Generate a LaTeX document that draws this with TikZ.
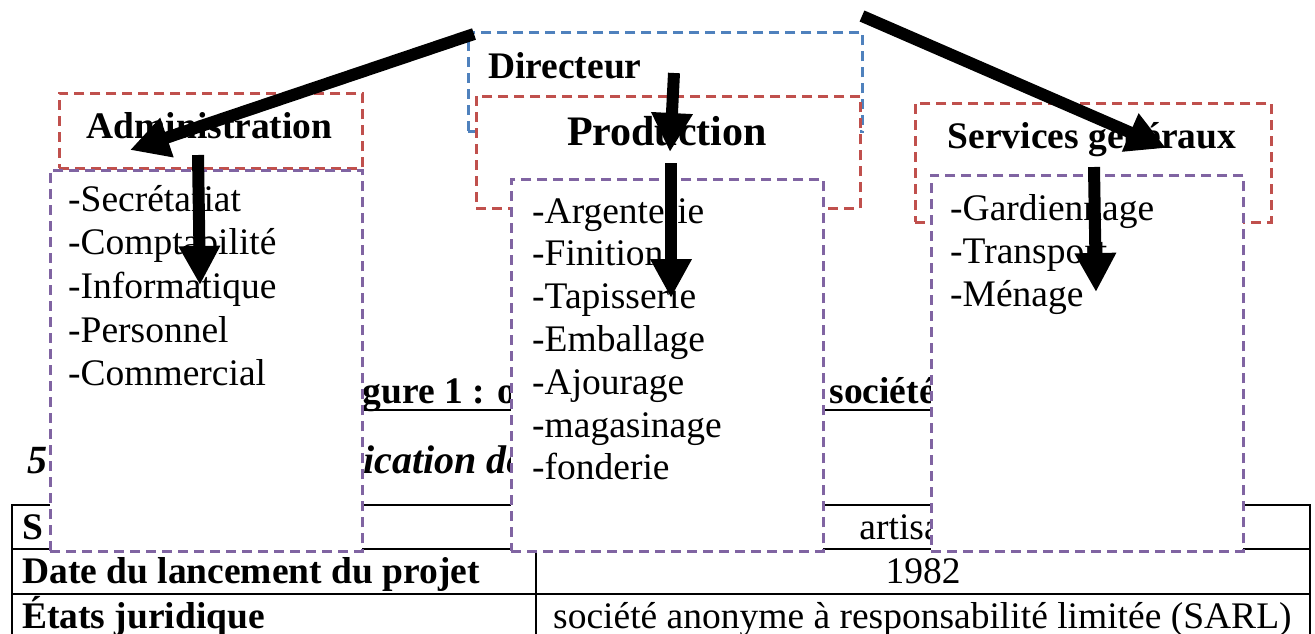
\documentclass[tikz,border=0pt]{standalone}
\usepackage{fontspec}
\setmainfont{Liberation Serif}
\usepackage{xcolor}
\usetikzlibrary{positioning,arrows.meta}

\definecolor{dirblue}{RGB}{79,129,189}
\definecolor{deptred}{RGB}{192,80,77}
\definecolor{listpurple}{RGB}{128,100,162}

\tikzset{
  dbox/.style={draw, fill=white, line width=2.6pt, dash pattern=on 10pt off 6pt,
    inner sep=0pt, anchor=north west},
  head/.style={inner sep=0pt, font=\fontsize{37.5}{45}\selectfont\bfseries},
  entry/.style={inner sep=0pt, anchor=base west, font=\fontsize{37.5}{45}\selectfont},
  cell/.style={inner sep=0pt, font=\fontsize{37.5}{45}\selectfont},
  link/.style={line width=12pt, -{Triangle[length=39pt,width=39pt]}}
}

\begin{document}
\begin{tikzpicture}[x=1pt,y=-1pt]
\fill[white] (0,0) rectangle (1315,633);
\useasboundingbox (0,0) rectangle (1315,633);

\draw[line width=2.8pt] (12,640) -- (12,505) -- (1310,505) -- (1310,640)
  (12,549) -- (1310,549) (12,594) -- (1310,594) (536,505) -- (536,640);
\node[cell, anchor=base west, font=\fontsize{37.5}{45}\selectfont\bfseries] (secteur) at (22,539) {S};
\node[cell, anchor=base] (artisanat) at (923,539) {artisanat};
\node[cell, anchor=base west, font=\fontsize{37.5}{45}\selectfont\bfseries] (datelbl) at (22,583) {Date du lancement du projet};
\node[cell, anchor=base] (annee) at (923,583) {1982};
\node[cell, anchor=base west, font=\fontsize{37.5}{45}\selectfont\bfseries] (etatlbl) at (22,628) {États juridique};
\node[cell, anchor=base west] (etat) at (553,628) {société anonyme à responsabilité limitée (SARL)};

\node[cell, anchor=base west, font=\fontsize{37.5}{45}\selectfont\bfseries] (legende) at (329,403) {Figure 1 : organigramme de la société};
\draw[line width=2.8pt] ([yshift=-7pt]legende.base west) -- ([yshift=-7pt]legende.base east);
\node[cell, anchor=base west, font=\fontsize{40}{45}\selectfont\bfseries\itshape] (numero) at (27,473) {5};
\node[cell, anchor=base west, font=\fontsize{40}{45}\selectfont\bfseries\itshape] (soustitre) at (363,473) {ication de};

\node[dbox, draw=dirblue, minimum width=394pt, minimum height=99pt] (dirbox) at (467,31) {};
\node[head, anchor=base west] (directeur) at (488,78) {Directeur};
\node[dbox, draw=deptred, minimum width=384pt, minimum height=112pt] (prodbox) at (475,95) {};
\node[dbox, draw=deptred, minimum width=303pt, minimum height=75pt] (adminbox) at (58,92) {};
\node[dbox, draw=deptred, minimum width=356pt, minimum height=119pt] (servbox) at (914,102) {};
\node[head, anchor=base, font=\fontsize{42}{48}\selectfont\bfseries] (production) at (667,145) {Production};
\node[head, anchor=base] (administration) at (209.5,138) {Administration};
\node[head, anchor=base] (services) at (1092,148) {Services généraux};

\node[dbox, draw=listpurple, minimum width=312pt, minimum height=381pt] (adminlist) at (49,169) {};
\node[dbox, draw=listpurple, minimum width=312pt, minimum height=372pt] (prodlist) at (510,178) {};
\node[dbox, draw=listpurple, minimum width=312pt, minimum height=376pt] (servlist) at (930,174) {};

\foreach \txt [count=\i] in {Secrétariat,Comptabilité,Informatique,Personnel,Commercial}
  \node[entry] (adm\i) at (68,{211+43.7*(\i-1)}) {-\txt};
\foreach \txt [count=\i] in {Argenterie,Finition,Tapisserie,Emballage,Ajourage,magasinage,fonderie}
  \node[entry] (prd\i) at (532,{223+42.8*(\i-1)}) {-\txt};
\foreach \txt [count=\i] in {Gardiennage,Transport,Ménage}
  \node[entry] (srv\i) at (950,{220+43.3*(\i-1)}) {-\txt};

\coordinate (dirL) at (474,34);
\coordinate (dirM) at (674,73);
\coordinate (dirR) at (862,16);
\coordinate (admT) at (130,150);
\coordinate (prdT) at (670,152);
\coordinate (srvT) at (1166,148);
\coordinate (admS) at (198,155);
\coordinate (admE) at (200,285);
\coordinate (prdS) at (671,163);
\coordinate (prdE) at (671,298);
\coordinate (srvS) at (1094,167);
\coordinate (srvE) at (1096,292);

\draw[link] (dirL) -- (admT);
\draw[link] (dirM) -- (prdT);
\draw[link] (dirR) -- (srvT);
\draw[link] (admS) -- (admE);
\draw[link] (prdS) -- (prdE);
\draw[link] (srvS) -- (srvE);
\end{tikzpicture}
\end{document}
